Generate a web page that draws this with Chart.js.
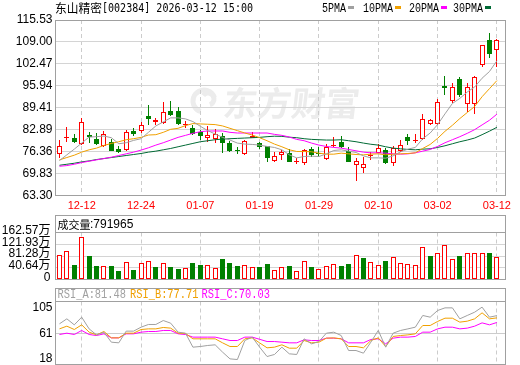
<!DOCTYPE html>
<html lang="zh-CN">
<head>
<meta charset="utf-8">
<title>东山精密 002384</title>
<script src="https://cdn.jsdelivr.net/npm/chart.js@4.4.1/dist/chart.umd.min.js"></script>
<style>
  html, body { margin: 0; padding: 0; background: #fff; }
  #board { position: relative; width: 520px; height: 365px; overflow: hidden; }
  #board canvas { position: absolute; left: 0; }
</style>
</head>
<body>
<div id="board">
  <canvas id="kline" width="520" height="214" style="top:0"></canvas>
  <canvas id="volume" width="520" height="70" style="top:214px"></canvas>
  <canvas id="rsi" width="520" height="81" style="top:284px"></canvas>
</div>
<script>
const stockName = '东山精密';
const stockCode = '002384';
const stamp = '2026-03-12 15:00';
const lastVolume = '791965';

const dates = ['12-12', '12-24', '01-07', '01-19', '01-29', '02-10', '03-02', '03-12'];
const dateIdx = [3, 11, 19, 27, 35, 43, 51, 59];
const priceTicks = [63.30, 69.83, 76.36, 82.89, 89.41, 95.94, 102.47, 109.00, 115.53];
const volTicks = [0, 40.64, 81.28, 121.93, 162.57];
const rsiTicks = [18, 61, 105];

const open = [75.6, 80.45, 80.5, 78.6, 81.4, 80.2, 77.9, 79.2, 77.2, 76.8,
  82.35, 82.5, 87.1, 85.05, 84.9, 88.3, 88.5, 84.4, 83.5, 82.2,
  80.4, 80.1, 81.1, 78.8, 76.7, 75.6, 80.5, 79.0, 77.9, 73.6,
  75.4, 75.9, 73.2, 72.9, 77.1, 75.8, 74.1, 78.0, 79.3, 76.5,
  72.3, 71.4, 75.0, 75.9, 76.9, 72.9, 76.6, 80.8, 79.5, 80.1,
  84.6, 84.6, 96.0, 91.3, 98.1, 90.5, 90.6, 102.2, 109.7, 106.6];
const high = [79.9, 83.7, 81.6, 86.5, 82.2, 81.9, 82.4, 80.1, 78.0, 82.8,
  83.4, 85.2, 90.1, 86.5, 91.2, 91.3, 89.6, 85.6, 84.3, 82.8,
  84.0, 83.2, 82.0, 79.6, 77.7, 79.7, 82.05, 79.3, 78.1, 76.3,
  76.9, 77.1, 74.6, 77.2, 77.6, 77.7, 78.7, 80.7, 80.9, 77.7,
  74.6, 74.9, 76.2, 78.7, 77.5, 77.9, 79.9, 81.6, 81.7, 87.6,
  86.0, 92.1, 99.0, 96.8, 98.6, 96.8, 98.8, 108.2, 111.8, 109.8];
const low = [74.4, 79.2, 78.9, 78.4, 79.0, 78.3, 77.8, 76.5, 75.9, 76.5,
  80.9, 81.8, 84.35, 84.35, 84.6, 87.0, 84.3, 83.4, 81.3, 79.7,
  79.1, 78.8, 76.0, 76.2, 75.6, 75.5, 80.3, 77.2, 73.4, 73.3,
  73.8, 73.2, 72.6, 72.3, 74.9, 74.8, 74.0, 77.7, 77.4, 73.2,
  67.7, 70.1, 74.0, 75.8, 72.7, 72.1, 76.2, 78.4, 78.8, 79.9,
  84.3, 84.3, 93.1, 90.9, 92.5, 88.1, 87.7, 101.55, 104.1, 101.6];
const close = [78.1, 80.6, 79.1, 85.2, 80.7, 78.5, 81.7, 76.6, 76.1, 82.2,
  81.75, 84.35, 86.2, 85.75, 88.1, 87.4, 84.5, 84.6, 81.75, 81.0,
  81.4, 81.6, 78.8, 76.5, 76.45, 79.6, 81.0, 77.8, 74.4, 75.1,
  76.2, 73.3, 73.4, 76.7, 75.3, 75.6, 77.7, 78.2, 77.6, 73.4,
  73.6, 72.7, 75.2, 77.4, 72.9, 77.4, 78.3, 79.4, 79.9, 86.05,
  85.75, 91.1, 95.3, 95.5, 93.3, 95.7, 98.6, 108.0, 105.3, 109.6];

const ma5 = [73.7, 75.4, 77.1, 78.9, 80.7, 80.8, 81.0, 80.5, 78.7, 79.0,
  79.7, 80.2, 82.1, 84.0, 85.2, 86.4, 86.4, 86.1, 85.3, 83.9,
  82.6, 81.6, 80.6, 79.8, 78.9, 78.6, 78.5, 78.3, 77.9, 77.6,
  76.9, 75.4, 74.5, 74.9, 75.0, 74.9, 75.7, 76.7, 76.9, 76.5,
  76.1, 75.1, 74.5, 74.5, 74.4, 75.1, 76.3, 77.1, 77.6, 80.2,
  81.9, 84.4, 87.6, 90.7, 92.2, 94.1, 95.6, 98.2, 100.2, 103.4];
const ma10 = [73.9, 74.6, 75.3, 76.2, 76.9, 77.4, 78.2, 78.8, 79.3, 79.9,
  80.2, 80.6, 81.3, 81.4, 82.1, 83.0, 83.3, 84.1, 84.7, 84.6,
  84.5, 84.4, 84.0, 83.3, 82.6, 81.9, 81.3, 80.5, 79.6, 78.6,
  77.8, 76.9, 76.4, 76.4, 76.3, 75.9, 75.6, 75.6, 75.9, 75.7,
  75.5, 75.4, 75.6, 75.7, 75.4, 75.6, 75.7, 75.8, 76.0, 77.3,
  78.5, 80.3, 82.4, 84.2, 86.2, 88.0, 89.8, 92.7, 95.1, 97.5];
const ma20 = [72.0, 72.2, 72.6, 73.1, 73.5, 73.9, 74.3, 74.7, 75.2, 75.7,
  76.2, 76.8, 77.5, 78.3, 79.0, 79.8, 80.6, 81.2, 81.8, 82.3,
  82.5, 82.5, 82.5, 82.1, 81.9, 81.9, 81.9, 81.9, 81.9, 81.5,
  81.2, 80.7, 80.0, 79.6, 78.9, 78.3, 77.9, 77.6, 77.4, 77.0,
  76.6, 76.2, 76.0, 76.0, 75.9, 75.7, 75.6, 75.7, 76.0, 76.5,
  77.0, 77.9, 79.0, 79.9, 80.8, 81.8, 82.9, 84.3, 85.7, 87.5];
const ma30 = [72.3, 72.6, 72.9, 73.3, 73.6, 74.0, 74.3, 74.6, 74.9, 75.2,
  75.5, 75.8, 76.2, 76.5, 76.9, 77.3, 77.8, 78.3, 78.8, 79.3,
  79.6, 79.9, 80.1, 80.2, 80.3, 80.4, 80.5, 80.6, 80.8, 80.95,
  80.9, 80.65, 80.5, 80.2, 80.0, 79.9, 79.8, 79.8, 79.9, 79.6,
  79.3, 78.9, 78.55, 78.3, 77.8, 77.4, 77.2, 77.0, 76.9, 77.1,
  77.2, 77.6, 78.1, 78.7, 79.3, 79.8, 80.4, 81.4, 82.45, 83.6];

// 成交量, 单位: 万手
const volume = [85.3, 99.3, 50.2, 148.3, 81.8, 46.7, 45.6, 46.7, 29.2, 59.6,
  32.7, 56.1, 63.1, 43.2, 56.1, 43.2, 36.2, 38.5, 57.2, 50.2,
  49.1, 38.5, 71.2, 57.2, 46.7, 49.1, 43.2, 42.0, 53.7, 31.5,
  42.0, 45.6, 28.0, 63.1, 42.0, 35.0, 45.6, 52.6, 46.7, 53.7,
  84.1, 73.6, 59.6, 49.1, 64.2, 77.1, 56.1, 52.6, 49.1, 112.1,
  81.8, 91.1, 119.1, 70.1, 81.8, 91.1, 91.1, 91.1, 92.3, 79.2];

const rsiA = [67.8, 76.1, 66.1, 78.9, 59.4, 49.4, 53.9, 37.2, 36.1, 55.6,
  55.6, 62.2, 66.7, 66.7, 73.3, 68.9, 53.9, 52.2, 28.9, 30.0,
  31.7, 32.8, 20.6, 9.4, 8.3, 40.0, 45.6, 28.9, 13.3, 16.7,
  28.9, 17.8, 16.7, 42.8, 34.4, 38.3, 52.2, 53.9, 48.3, 23.3,
  23.3, 18.9, 37.2, 56.7, 28.9, 52.2, 56.7, 59.4, 62.2, 81.7,
  78.9, 90.0, 94.4, 94.4, 76.1, 81.7, 87.2, 95.6, 78.9, 81.48];
const rsiB = [59.4, 63.9, 58.3, 66.1, 53.9, 49.4, 55.0, 44.4, 44.4, 52.2,
  52.2, 58.3, 59.4, 59.4, 61.7, 60.6, 52.2, 51.7, 42.8, 42.8,
  42.8, 42.8, 36.1, 30.0, 30.0, 42.8, 44.4, 36.0, 27.8, 28.9,
  32.8, 27.2, 27.2, 40.0, 36.1, 37.2, 43.9, 44.4, 42.8, 30.0,
  30.0, 27.8, 40.0, 44.4, 30.0, 46.7, 48.3, 49.4, 51.1, 65.0,
  65.0, 71.7, 77.2, 77.2, 70.6, 72.2, 76.1, 86.1, 76.1, 77.71];
const rsiC = [50.0, 52.2, 50.0, 56.7, 50.0, 48.3, 51.1, 44.4, 44.4, 51.1,
  51.1, 53.9, 55.0, 55.0, 56.7, 56.7, 51.1, 50.0, 45.6, 45.6,
  45.6, 45.6, 42.8, 40.0, 40.0, 45.6, 45.6, 42.0, 38.3, 38.3,
  37.2, 36.1, 36.1, 41.1, 40.0, 40.0, 43.9, 43.9, 42.8, 36.1,
  36.1, 36.1, 41.7, 42.8, 34.4, 43.9, 45.6, 45.6, 46.7, 53.9,
  53.9, 59.4, 62.2, 62.2, 59.4, 60.6, 63.9, 69.4, 66.1, 70.03];

const RED = '#ff0000';
const GREEN = '#008000';
const GRAY = '#a0a0a0';
const ORANGE = '#f0a000';
const PINK = '#ff00ff';
const DKGREEN = '#006a35';
const FRAME = '#a0a0a0';
const X_MIN = -0.534;
const X_MAX = 60.16;
const SANS = '"Liberation Sans", Arial, "Noto Sans CJK SC", sans-serif';

const isUp = (i) => close[i] >= open[i];
const volUp = (i) => i === 0 || close[i] >= close[i - 1];
const pts = (arr) => arr.map((v, i) => ({ x: i, y: v }));

function zeroPad(s) {
  s.paddingLeft = 0;
  s.paddingRight = 0;
  s.paddingTop = 0;
  s.paddingBottom = 0;
}

function xScale(showLabels, h) {
  return {
    type: 'linear',
    min: X_MIN,
    max: X_MAX,
    offset: false,
    afterBuildTicks: (s) => { s.ticks = dateIdx.map((v) => ({ value: v })); },
    afterFit: (s) => { s.height = h; zeroPad(s); },
    grid: { color: '#cccccc', lineWidth: 1, drawTicks: false, offset: false },
    border: { display: false, dash: [4, 3] },
    ticks: {
      display: showLabels,
      autoSkip: false,
      maxRotation: 0,
      padding: 4,
      color: RED,
      font: { family: SANS, size: 11 },
      callback: (v) => dates[dateIdx.indexOf(v)],
    },
  };
}

function yScale(min, max, tickList, width, tickOpts) {
  return {
    type: 'linear',
    min,
    max,
    afterBuildTicks: (s) => { s.ticks = tickList.map((v) => ({ value: v })); },
    afterFit: (s) => { s.width = width; zeroPad(s); },
    grid: { color: '#d4d4d4', drawTicks: false },
    border: { display: false },
    ticks: { autoSkip: false, padding: 3, color: '#000', font: { family: SANS, size: 12 }, ...tickOpts },
  };
}

function textAt(ctx, s, x, y, font, color, w) {
  ctx.font = font;
  ctx.fillStyle = color;
  ctx.textAlign = 'left';
  ctx.textBaseline = 'middle';
  if (w) ctx.fillText(s, x, y, w);
  else ctx.fillText(s, x, y);
}

// snap bars to whole pixels so the candles look crisp
const snapBars = {
  id: 'snapBars',
  afterDatasetsUpdate(chart) {
    chart.data.datasets.forEach((ds, k) => {
      const meta = chart.getDatasetMeta(k);
      if (meta.type !== 'bar') return;
      meta.data.forEach((el) => {
        el.x = Math.floor(el.x) + 0.5;
        const y = Math.round(el.y);
        let b = Math.round(el.base);
        if (Math.abs(b - y) < 1) b = y + 1;
        el.y = y;
        el.base = b;
      });
    });
  },
};

function panelFrame(boxTop) {
  return {
    id: 'panelFrame',
    afterDraw(chart) {
      const { ctx, chartArea: a } = chart;
      const l = Math.floor(a.left) + 0.5;
      const r = Math.floor(a.right) + 0.5;
      const t = Math.floor(a.top) + 0.5;
      const b = Math.floor(a.bottom) + 0.5;
      const top = boxTop === null ? t : boxTop;
      ctx.save();
      ctx.strokeStyle = FRAME;
      ctx.lineWidth = 1;
      ctx.strokeRect(l, top, r - l, b - top);
      if (boxTop !== null) {
        ctx.beginPath();
        ctx.moveTo(l, t);
        ctx.lineTo(r, t);
        ctx.stroke();
      }
      ctx.restore();
    },
  };
}

const maSets = [
  { label: '5PMA', data: ma5, color: GRAY },
  { label: '10PMA', data: ma10, color: ORANGE },
  { label: '20PMA', data: ma20, color: PINK },
  { label: '30PMA', data: ma30, color: DKGREEN },
];

const watermark = {
  id: 'watermark',
  beforeDraw(chart) {
    const { ctx } = chart;
    ctx.save();
    ctx.strokeStyle = '#ececec';
    ctx.lineWidth = 5;
    ctx.beginPath();
    ctx.arc(204, 101, 11, Math.PI * 0.6, Math.PI * 1.9);
    ctx.stroke();
    ctx.beginPath();
    ctx.arc(208, 99, 6, Math.PI * 1.2, Math.PI * 2.4);
    ctx.stroke();
    ctx.translate(222, 116);
    ctx.transform(1, 0, -0.12, 1, 0, 0);
    ctx.fillStyle = '#ececec';
    ctx.font = 'bold 34px "Noto Sans CJK SC"';
    ctx.textBaseline = 'alphabetic';
    ctx.fillText('东方财富', 0, 0, 148);
    ctx.restore();
  },
};

const headerMain = {
  id: 'headerMain',
  afterDraw(chart) {
    const { ctx } = chart;
    ctx.save();
    textAt(ctx, stockName, 55, 8.5, '12px "Noto Sans CJK SC"', '#000', 47);
    textAt(ctx, '[' + stockCode + '] ' + stamp, 102, 8.5, '12px "DejaVu Sans Mono"', '#000', 151);
    const lx = [322, 363, 409, 453];
    maSets.forEach((m, k) => {
      const w = m.label.length * 6;
      textAt(ctx, m.label, lx[k], 8.5, '12px "Liberation Mono"', '#000', w);
      ctx.fillStyle = m.color;
      ctx.fillRect(lx[k] + w + 2, 6, 6, 3);
    });
    ctx.restore();
  },
};

const common = {
  responsive: false,
  animation: false,
  events: [],
  plugins: { legend: { display: false }, tooltip: { enabled: false } },
};

new Chart(document.getElementById('kline'), {
  type: 'bar',
  data: {
    datasets: [
      ...maSets.map((m) => ({
        type: 'line',
        label: m.label,
        data: pts(m.data),
        borderColor: m.color,
        borderWidth: 1,
        pointRadius: 0,
        tension: 0,
      })),
      {
        label: 'body',
        data: open.map((o, i) => ({ x: i, y: [o, close[i]] })),
        backgroundColor: (c) => (isUp(c.dataIndex) ? '#ffffff' : GREEN),
        borderColor: (c) => (isUp(c.dataIndex) ? RED : GREEN),
        borderWidth: 1,
        borderSkipped: false,
        inflateAmount: 0,
        minBarLength: 1,
        grouped: false,
        maxBarThickness: 5,
      },
      {
        label: 'wick',
        data: low.map((l, i) => ({ x: i, y: [l, high[i]] })),
        backgroundColor: (c) => (isUp(c.dataIndex) ? RED : GREEN),
        borderWidth: 0,
        inflateAmount: 0,
        grouped: false,
        maxBarThickness: 1,
      },
    ],
  },
  options: {
    ...common,
    layout: { autoPadding: false, padding: { top: 20, right: 14.5, left: 0, bottom: 0 } },
    scales: {
      x: xScale(true, 18.5),
      y: yScale(priceTicks[0], priceTicks[priceTicks.length - 1], priceTicks, 55.5, {
        callback: (v) => v.toFixed(2),
      }),
    },
  },
  plugins: [watermark, snapBars, panelFrame(null), headerMain],
});

new Chart(document.getElementById('volume'), {
  type: 'bar',
  data: {
    datasets: [{
      label: '成交量',
      data: pts(volume),
      backgroundColor: (c) => (volUp(c.dataIndex) ? '#ffffff' : GREEN),
      borderColor: (c) => (volUp(c.dataIndex) ? RED : GREEN),
      borderWidth: 1,
      borderSkipped: false,
      inflateAmount: 0,
      grouped: false,
      maxBarThickness: 5,
    }],
  },
  options: {
    ...common,
    layout: { autoPadding: false, padding: { top: 18.5, right: 14.5, left: 0, bottom: 4.5 } },
    scales: {
      x: xScale(false, 0),
      y: yScale(0, volTicks[volTicks.length - 1], volTicks, 55.5, {
        padding: 5,
        labelOffset: -2,
        callback: (v) => (v === 0 ? '0' : v.toFixed(2) + '万'),
      }),
    },
  },
  plugins: [snapBars, panelFrame(1.5), {
    id: 'volHeader',
    afterDraw(chart) {
      const { ctx } = chart;
      ctx.save();
      textAt(ctx, '成交量', 57.5, 11, '11px "Noto Sans CJK SC"', '#000');
      textAt(ctx, ':' + lastVolume, 90, 11, '12px ' + SANS, '#000');
      ctx.restore();
    },
  }],
});

const rsiSets = [
  { label: 'RSI_A', data: rsiA, color: GRAY, x: 57.5 },
  { label: 'RSI_B', data: rsiB, color: ORANGE, x: 130 },
  { label: 'RSI_C', data: rsiC, color: PINK, x: 201.5 },
];

const rsiY = yScale(8.4, 114.6, rsiTicks, 55.5, { callback: (v) => String(v) });
rsiY.grid = { color: (c) => (c.tick && c.tick.value === 61 ? '#cccccc' : 'rgba(0,0,0,0)'), drawTicks: false };

new Chart(document.getElementById('rsi'), {
  type: 'line',
  data: {
    datasets: rsiSets.map((r) => ({
      label: r.label,
      data: pts(r.data),
      yAxisID: 'yd',
      borderColor: r.color,
      borderWidth: 1,
      pointRadius: 0,
      tension: 0,
    })),
  },
  options: {
    ...common,
    layout: { autoPadding: false, padding: { top: 17.5, right: 14.5, left: 0, bottom: 0.5 } },
    scales: {
      x: xScale(false, 0),
      y: rsiY,
      yd: { type: 'linear', display: false, min: 0, max: 105 },
    },
  },
  plugins: [panelFrame(4.5), {
    id: 'rsiHeader',
    afterDraw(chart) {
      const { ctx } = chart;
      ctx.save();
      rsiSets.forEach((r) => {
        const s = r.label + ':' + r.data[r.data.length - 1].toFixed(2);
        textAt(ctx, s, r.x, 11, '12px "Liberation Mono"', r.color, 68.5);
      });
      ctx.restore();
    },
  }],
});
</script>
</body>
</html>
